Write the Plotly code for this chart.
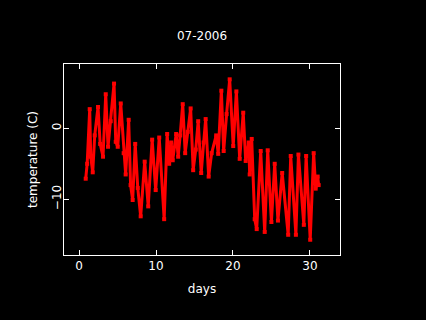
import plotly.graph_objects as go

# Days of July 2006 (read at alternating daily highs / lows) and temperature (C)
days = [0.87, 1.06, 1.39, 1.52, 1.78, 2.04, 2.47, 2.75, 3.12, 3.47, 3.77, 4.12, 4.55,
        4.77, 5.03, 5.42, 5.8, 6.06, 6.45, 6.7, 6.97, 7.3, 7.63, 8.01, 8.53, 8.99,
        9.5, 9.96, 10.42, 11.06, 11.45, 11.71, 11.97, 12.17, 12.62, 12.88, 13.14,
        13.47, 13.79, 14.12, 14.5, 14.83, 15.16, 15.48, 15.87, 16.19, 16.45, 16.84,
        17.23, 17.82, 18.08, 18.49, 18.79, 19.17, 19.57, 20.03, 20.44, 20.87, 21.33,
        21.65, 22.04, 22.17, 22.43, 22.82, 23.08, 23.60, 24.12, 24.51, 24.99, 25.42,
        25.84, 26.39, 27.17, 27.5, 28.17, 28.5, 29.2, 29.5, 30.03, 30.48, 30.74,
        31.0, 31.13]
temps = [-7.1, -5.0, 2.7, -4.0, -6.2, -1.0, 3.0, -2.2, -4.0, 4.8, -2.6, 1.0, 6.3,
         -1.9, -2.6, 3.5, -3.5, -6.5, 1.2, -8.0, -10.1, -2.2, -8.4, -12.4, -4.7, -11.0,
         -1.6, -8.7, -1.3, -12.8, -0.8, -5.0, -2.0, -4.5, -0.8, -4.0, -1.0,
         3.4, -3.5, -0.5, 2.8, -5.9, -3.0, 1.0, -6.3, -2.0, 1.3, -6.8,
         -3.5, -1.0, -3.6, 5.3, -3.2, 2.0, 6.9, -2.5, 5.2, -4.3, 2.2,
         -4.6, -2.0, -6.5, -1.5, -12.8, -14.2, -3.2, -14.6, -3.1, -13.2, -5.0,
         -13.0, -6.3, -15.0, -3.9, -15.0, -3.7, -13.6, -3.9, -15.7, -3.5, -8.5,
         -6.8, -8.0]

x_ticks = [0, 10, 20, 30]
y_ticks = [-10, 0]

fig = go.Figure()
fig.add_trace(go.Scatter(
    x=days, y=temps, mode="lines+markers",
    line=dict(color="#ff0000", width=3),
    marker=dict(color="#ff0000", size=4, symbol="square"),
    hoverinfo="skip", showlegend=False,
))

font = dict(family="DejaVu Sans", size=12, color="white")
axis_common = dict(
    showline=True, linecolor="white", linewidth=1, mirror="allticks",
    ticks="inside", ticklen=5, tickcolor="white", tickwidth=1,
    showgrid=False, zeroline=False, tickfont=font,
)
fig.update_layout(
    width=426, height=320,
    paper_bgcolor="black", plot_bgcolor="black",
    margin=dict(l=64, r=86, t=64, b=65),
    font=font,
    title=dict(text="07-2006", x=202 / 426, xanchor="center", y=1 - 36 / 320,
               yanchor="middle", font=font),
    xaxis=dict(range=[-1.95, 33.9], tickvals=x_ticks, title=dict(text="days", font=font, standoff=12),
               **axis_common),
    yaxis=dict(range=[-17.85, 9.06], tickvals=y_ticks, tickangle=-90, ticklabelstandoff=-3,
               title=dict(text="temperature (C)", font=font, standoff=10), **axis_common),
)
fig.write_html("out.html", config={"displayModeBar": False},
               post_script="document.body.style.margin='0';document.body.style.background='black';")
